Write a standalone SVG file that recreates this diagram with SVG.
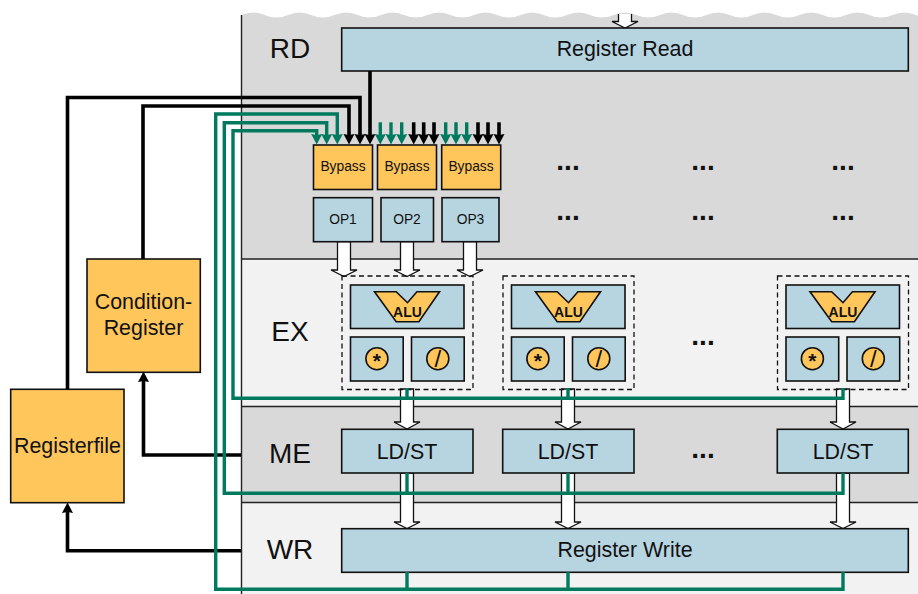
<svg xmlns="http://www.w3.org/2000/svg" xmlns:xlink="http://www.w3.org/1999/xlink" width="918" height="594" viewBox="0 0 918 594">
<style>
text{font-family:"Liberation Sans",Arial,sans-serif;fill:#111;text-anchor:middle}
.blue{fill:#b7d5e1;stroke:#111;stroke-width:1.6}
.or{fill:#ffc65c;stroke:#111;stroke-width:1.6}
.sep{stroke:#222;stroke-width:1.4;fill:none}
.k{fill:none;stroke:#000;stroke-width:3.6}
.g{fill:none;stroke:#007a5e;stroke-width:3.4}
.wa{fill:#fff;stroke:#111;stroke-width:1.3}
.st{font-size:28px}
.t20{font-size:21.4px}
.t13{font-size:13.8px}
.dots{font-size:28px;font-weight:bold}
.alu{font-size:14px;font-weight:bold}
.dash{fill:none;stroke:#111;stroke-width:1.3;stroke-dasharray:5 3.5}
</style>
<defs>
<marker id="hk" markerUnits="userSpaceOnUse" markerWidth="12" markerHeight="12" refX="4" refY="6" orient="auto"><path d="M0,0.500 L10.500,6 L0,11.500 L1,6z" fill="#000"/></marker>
<marker id="hg" markerUnits="userSpaceOnUse" markerWidth="12" markerHeight="12" refX="4" refY="6" orient="auto"><path d="M0,0.500 L10.500,6 L0,11.500 L1,6z" fill="#007a5e"/></marker>
<g id="fu">
<rect class="dash" x="0" y="0" width="131" height="113.500"/>
<rect class="blue" x="8.500" y="9" width="113.500" height="43.500"/>
<rect class="blue" x="8.500" y="61" width="52.700" height="44"/>
<rect class="blue" x="69.500" y="61" width="52.700" height="44"/>
<path class="or" d="M32.500,15.700 H54.200 L65.500,26.700 L74.900,15.700 H97.500 L76.900,45.700 H54.200z"/>
<text class="alu" x="65.500" y="40.500">ALU</text>
<circle class="or" cx="34.900" cy="82.700" r="11"/>
<text x="34.900" y="92" style="font-size:21px;font-weight:bold">*</text>
<circle class="or" cx="95.800" cy="82.700" r="11"/>
<text x="95.800" y="91" style="font-size:24px">/</text>
</g>
</defs>

<g id="stages">
<path fill="#d9d9d9" d="M241.500,15 q11.600,-5 23.250,0 t23.250,0 t23.250,0 t23.250,0 t23.250,0 t23.250,0 t23.250,0 t23.250,0 t23.250,0 t23.250,0 t23.250,0 t23.250,0 t23.250,0 t23.250,0 t23.250,0 t23.250,0 t23.250,0 t23.250,0 t23.250,0 t23.250,0 t23.250,0 t23.250,0 t23.250,0 t23.250,0 t23.250,0 t23.250,0 t23.250,0 t23.250,0 t23.250,0 t23.250,0 V259 H241.500z"/>
<rect x="241.500" y="259" width="677" height="147.500" fill="#f2f2f2"/>
<rect x="241.500" y="406.500" width="677" height="96" fill="#d9d9d9"/>
<rect x="241.500" y="502.500" width="677" height="92" fill="#f2f2f2"/>
<path class="sep" d="M241.500,15 V594 M241.500,259 H918 M241.500,406.500 H918 M241.500,502.500 H918"/>
<text class="st" x="290" y="58">RD</text>
<text class="st" x="290" y="341">EX</text>
<text class="st" x="290" y="463">ME</text>
<text class="st" x="290" y="559">WR</text>
</g>

<g id="white-arrows">
<path class="wa" d="M618.500,14 V21.500 H612 L625,28 L638,21.500 H631.500 V14"/>
<path class="wa" d="M337.500,241.500 V270 H331 L344,276.500 L357,270 H350.500 V241.500z"/>
<path class="wa" d="M400.500,241.500 V270 H394 L407,276.500 L420,270 H413.500 V241.500z"/>
<path class="wa" d="M463.500,241.500 V270 H457 L470,276.500 L483,270 H476.500 V241.500z"/>
<path class="wa" d="M400.500,389 V422 H394 L407,429 L420,422 H413.500 V389z"/>
<path class="wa" d="M561.500,389 V422 H555 L568,429 L581,422 H574.500 V389z"/>
<path class="wa" d="M836.500,389 V422 H830 L843,429 L856,422 H849.500 V389z"/>
<path class="wa" d="M400.500,473 V522 H394 L407,528.500 L420,522 H413.500 V473z"/>
<path class="wa" d="M561.500,473 V522 H555 L568,528.500 L581,522 H574.500 V473z"/>
<path class="wa" d="M836.500,473 V522 H830 L843,528.500 L856,522 H849.500 V473z"/>
</g>

<g id="register-read"><rect class="blue" x="341.700" y="28" width="566.600" height="43"/><text class="t20" x="625" y="56">Register Read</text></g>

<g id="bypass1"><rect class="or" x="313.500" y="145" width="59" height="44.500"/><text class="t13" x="343" y="171">Bypass</text></g>
<g id="bypass2"><rect class="or" x="377.500" y="145" width="59" height="44.500"/><text class="t13" x="407" y="171">Bypass</text></g>
<g id="bypass3"><rect class="or" x="441.700" y="145" width="59" height="44.500"/><text class="t13" x="471" y="171">Bypass</text></g>
<g id="op1"><rect class="blue" x="313.500" y="197.700" width="59" height="44"/><text class="t13" x="343" y="223.500">OP1</text></g>
<g id="op2"><rect class="blue" x="381" y="197.700" width="52.500" height="44"/><text class="t13" x="407" y="223.500">OP2</text></g>
<g id="op3"><rect class="blue" x="442" y="197.700" width="57" height="44"/><text class="t13" x="470.500" y="223.500">OP3</text></g>

<g id="fu1"><use xlink:href="#fu" href="#fu" x="342" y="276"/></g>
<g id="fu2"><use xlink:href="#fu" href="#fu" x="503" y="276"/></g>
<g id="fu3"><use xlink:href="#fu" href="#fu" x="777.500" y="276"/></g>

<g id="ldst1"><rect class="blue" x="341.700" y="429.300" width="131.300" height="43.700"/><text class="t20" x="407" y="458.500">LD/ST</text></g>
<g id="ldst2"><rect class="blue" x="502.700" y="429.300" width="131.300" height="43.700"/><text class="t20" x="568" y="458.500">LD/ST</text></g>
<g id="ldst3"><rect class="blue" x="777.300" y="429.300" width="131" height="43.700"/><text class="t20" x="843" y="458.500">LD/ST</text></g>
<g id="register-write"><rect class="blue" x="341.700" y="528.700" width="566.600" height="43.600"/><text class="t20" x="625" y="556.500">Register Write</text></g>

<g id="registerfile"><rect class="or" x="10.700" y="389.300" width="113.300" height="113.400"/><text class="t20" x="67.500" y="452.500">Registerfile</text></g>
<g id="condition-register"><rect class="or" x="87" y="259" width="113.300" height="113.300"/><text class="t20" x="143.500" y="309">Condition-</text><text class="t20" x="143.500" y="335">Register</text></g>

<g id="dots">
<text class="dots" x="568" y="170">...</text><text class="dots" x="703" y="170">...</text><text class="dots" x="843" y="170">...</text>
<text class="dots" x="568" y="220">...</text><text class="dots" x="703" y="220">...</text><text class="dots" x="843" y="220">...</text>
<text class="dots" x="703" y="345">...</text><text class="dots" x="703" y="458">...</text>
</g>

<g id="connectors">
<path class="k" d="M67.500,389 V97.500 H360 V138" marker-end="url(#hk)"/>
<path class="k" d="M143,259 V106 H349 V138" marker-end="url(#hk)"/>
<path class="k" d="M370,71 V138" marker-end="url(#hk)"/>
<path class="k" d="M241,455 H143.500 V378" marker-end="url(#hk)"/>
<path class="k" d="M241,550.700 H67.500 V509" marker-end="url(#hk)"/>
<path class="g" d="M843,572 V589.300 H215.700 V114 H337.300 V138" marker-end="url(#hg)"/>
<path class="g" d="M843,473 V493.300 H224.300 V122.700 H326.700 V138" marker-end="url(#hg)"/>
<path class="g" d="M843,388 V398.300 H233 V130.700 H316.700 V138" marker-end="url(#hg)"/>
<path class="g" d="M407,388 V398 M568,388 V398 M407,473 V493 M568,473 V493 M407,572 V589 M568,572 V589"/>
<g class="g">
<path d="M380.300,122.300 V138" marker-end="url(#hg)"/><path d="M391,122.300 V138" marker-end="url(#hg)"/><path d="M401.700,122.300 V138" marker-end="url(#hg)"/>
<path d="M445.700,122.300 V138" marker-end="url(#hg)"/><path d="M456,122.300 V138" marker-end="url(#hg)"/><path d="M466.700,122.300 V138" marker-end="url(#hg)"/>
</g>
<g class="k">
<path d="M413.700,122.300 V138" marker-end="url(#hk)"/><path d="M423.700,122.300 V138" marker-end="url(#hk)"/><path d="M434,122.300 V138" marker-end="url(#hk)"/>
<path d="M478,122.300 V138" marker-end="url(#hk)"/><path d="M488,122.300 V138" marker-end="url(#hk)"/><path d="M499,122.300 V138" marker-end="url(#hk)"/>
</g>
</g>
</svg>
